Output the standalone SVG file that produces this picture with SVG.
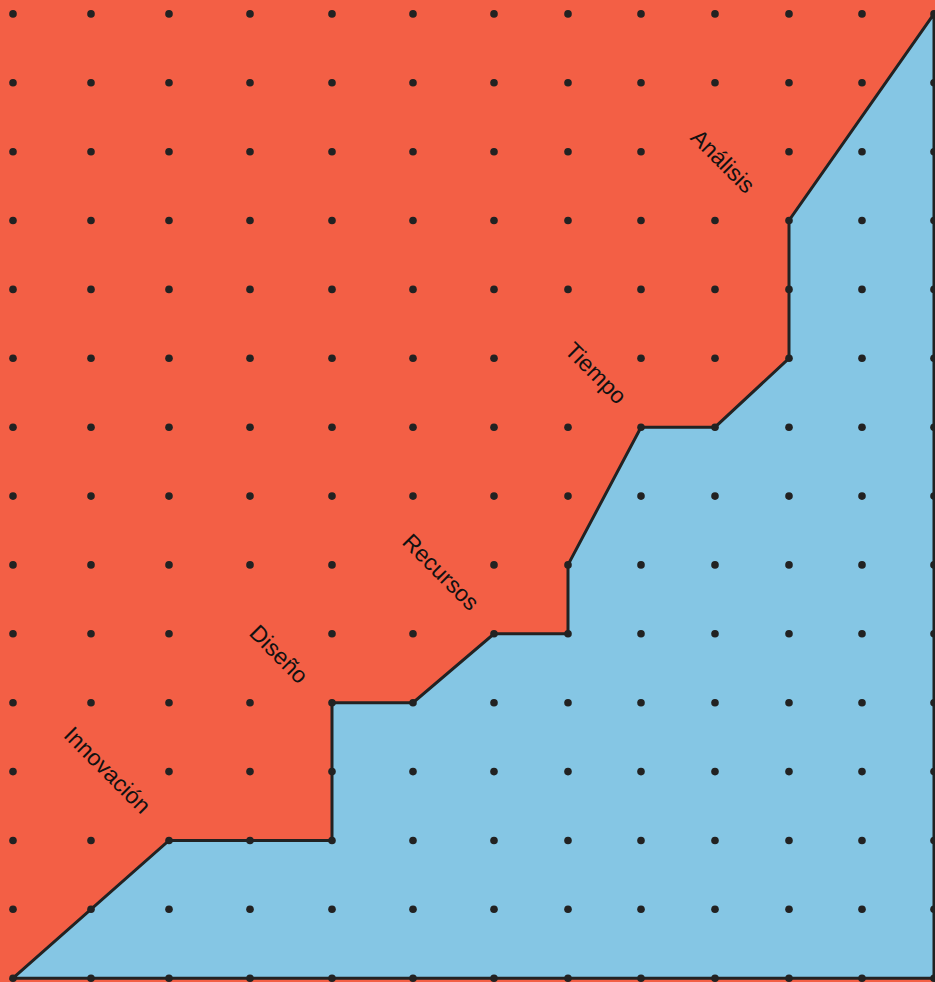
<svg xmlns="http://www.w3.org/2000/svg" width="935" height="982" viewBox="0 0 935 982">
<style>
.bg{fill:#F35F45}
.area{fill:#85C6E4;stroke:#222;stroke-width:3;stroke-linejoin:miter}
.dot{fill:#222}
.lbl{font-family:"Liberation Sans",Arial,sans-serif;font-size:23px;fill:#111;text-anchor:middle;dominant-baseline:central}
</style>
<defs>
<circle id="d" class="dot" cx="0" cy="0" r="3.8"/>
<g id="row">
<use href="#d" x="13"/><use href="#d" x="91"/><use href="#d" x="169"/><use href="#d" x="250"/><use href="#d" x="332"/><use href="#d" x="413"/><use href="#d" x="494"/><use href="#d" x="568"/><use href="#d" x="641"/><use href="#d" x="715"/><use href="#d" x="789"/><use href="#d" x="862"/><use href="#d" x="934"/>
</g>
<g id="rowA">
<use href="#d" x="13"/><use href="#d" x="91"/><use href="#d" x="169"/><use href="#d" x="250"/><use href="#d" x="332"/><use href="#d" x="413"/><use href="#d" x="494"/><use href="#d" x="568"/><use href="#d" x="641"/><use href="#d" x="789"/><use href="#d" x="862"/><use href="#d" x="934"/>
</g>
<g id="rowT">
<use href="#d" x="13"/><use href="#d" x="91"/><use href="#d" x="169"/><use href="#d" x="250"/><use href="#d" x="332"/><use href="#d" x="413"/><use href="#d" x="494"/><use href="#d" x="641"/><use href="#d" x="715"/><use href="#d" x="789"/><use href="#d" x="862"/><use href="#d" x="934"/>
</g>
<g id="rowR">
<use href="#d" x="13"/><use href="#d" x="91"/><use href="#d" x="169"/><use href="#d" x="250"/><use href="#d" x="332"/><use href="#d" x="494"/><use href="#d" x="568"/><use href="#d" x="641"/><use href="#d" x="715"/><use href="#d" x="789"/><use href="#d" x="862"/><use href="#d" x="934"/>
</g>
<g id="rowD">
<use href="#d" x="13"/><use href="#d" x="91"/><use href="#d" x="169"/><use href="#d" x="332"/><use href="#d" x="413"/><use href="#d" x="494"/><use href="#d" x="568"/><use href="#d" x="641"/><use href="#d" x="715"/><use href="#d" x="789"/><use href="#d" x="862"/><use href="#d" x="934"/>
</g>
<g id="rowI">
<use href="#d" x="13"/><use href="#d" x="169"/><use href="#d" x="250"/><use href="#d" x="332"/><use href="#d" x="413"/><use href="#d" x="494"/><use href="#d" x="568"/><use href="#d" x="641"/><use href="#d" x="715"/><use href="#d" x="789"/><use href="#d" x="862"/><use href="#d" x="934"/>
</g>
</defs>
<rect class="bg" x="0" y="0" width="935" height="982"/>
<g id="connectors">
<path id="frontier" class="area" d="M13,978.2 L169,840.5 L332,840.5 L332,702.7 L413,702.7 L494,633.8 L568,633.8 L568,564.9 L641,427.2 L715,427.2 L789,358.3 L789,220.5 L934,13.9 L934,978.2 Z"/>
</g>
<g id="grid">
<use href="#row" y="13.9"/><use href="#row" y="82.8"/><use href="#rowA" y="151.7"/><use href="#row" y="220.5"/><use href="#row" y="289.4"/><use href="#rowT" y="358.3"/><use href="#row" y="427.2"/><use href="#row" y="496.1"/><use href="#rowR" y="564.9"/><use href="#rowD" y="633.8"/><use href="#row" y="702.7"/><use href="#rowI" y="771.6"/><use href="#row" y="840.5"/><use href="#row" y="909.3"/><use href="#row" y="978.2"/>
</g>
<g id="label-analisis"><text class="lbl" transform="translate(723,161) rotate(45)">Análisis</text></g>
<g id="label-tiempo"><text class="lbl" transform="translate(596,373) rotate(45)">Tiempo</text></g>
<g id="label-recursos"><text class="lbl" transform="translate(441,572) rotate(45)">Recursos</text></g>
<g id="label-diseno"><text class="lbl" transform="translate(279,654) rotate(45)">Diseño</text></g>
<g id="label-innovacion"><text class="lbl" transform="translate(107.5,770) rotate(45)">Innovación</text></g>
</svg>
